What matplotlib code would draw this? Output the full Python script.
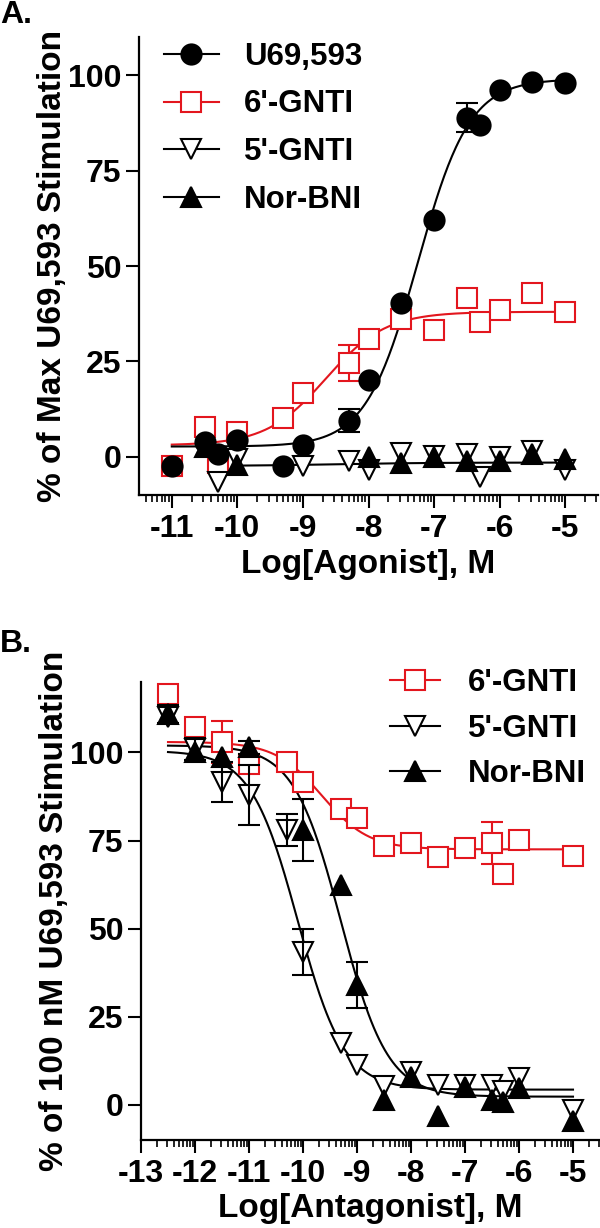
import matplotlib
matplotlib.use("Agg")
import matplotlib.pyplot as plt
from matplotlib.lines import Line2D
import numpy as np

plt.rcParams['font.family'] = ['Liberation Sans', 'DejaVu Sans']
plt.rcParams['font.weight'] = 'bold'
plt.rcParams['axes.labelweight'] = 'bold'
plt.rcParams['axes.unicode_minus'] = False
plt.rcParams['xtick.labelsize'] = 23
plt.rcParams['ytick.labelsize'] = 23

RED = '#E3161E'

# ---- panel A: agonist data
a_x = [-11, -10.5, -10.3, -10, -9.3, -9, -8.3, -8, -7.5, -7, -6.5, -6.3, -6, -5.5, -5]
a_u69 = [-2.5, 4.0, 0.8, 4.3, -2.3, 3.1, 9.5, 20.1, 40.3, 62.0, 88.9, 86.9, 96.1, 98.3, 98.0]
a_u69_err = [0, 0, 0, 0, 0, 0, 3.0, 0, 0, 0, 3.8, 0, 0, 0, 0]
a_gnti6 = [-2.3, 7.9, -1.7, 6.6, 10.1, 16.6, 24.5, 31.0, 36.2, 33.2, 41.6, 35.3, 38.4, 42.9, 37.9]
a_gnti6_err = [0, 0, 0, 0, 0, 0, 4.7, 0, 0, 0, 0, 0, 0, 0, 0]
a_gnti5_x = [-10.3, -10, -9, -8.3, -8, -7.5, -7, -6.5, -6.3, -6, -5.5, -5]
a_gnti5 = [-6.7, -0.5, -2.3, -1.0, -3.4, 1.0, 0.3, 0.8, -5.3, -0.1, 1.4, -3.4]
a_nor_x = [-10.5, -10, -8, -7.5, -7, -6.5, -6, -5.5, -5]
a_nor = [2.5, -2.1, -0.1, -1.6, -0.1, -1.0, -1.0, 0.8, -0.6]

# fitted curves: bottom, top, logEC50, hill, x start, x end
a_fit_u69 = (2.7, 99.0, -7.25, 1.1, -11, -5)
a_fit_gnti6 = (3.0, 38.0, -8.65, 0.95, -11, -5)
a_fit_nor = (-2.4, -1.5, -8.5, 0.6, -10, -5)

# ---- panel B: antagonist data
b_gnti6_x = [-12.5, -12, -11.5, -11, -10.3, -10, -9.3, -9, -8.5, -8, -7.5, -7, -6.5, -6.3, -6, -5]
b_gnti6 = [116.6, 107.2, 102.9, 96.8, 97.4, 91.6, 84.0, 81.5, 73.4, 74.4, 70.3, 73.0, 74.3, 65.4, 75.1, 70.5]
b_gnti6_err = [0, 0, 5.9, 0, 0, 0, 0, 0, 0, 0, 0, 0, 6.0, 0, 0, 0]
b_gnti5_x = [-12.5, -12, -11.5, -11, -10.3, -10, -9.3, -9, -8.5, -8, -7.5, -7, -6.5, -6.3, -6, -5]
b_gnti5 = [110.0, 101.0, 91.6, 87.8, 77.9, 43.4, 17.5, 11.3, 5.2, 9.4, 5.7, 5.7, 5.7, 3.8, 7.6, -1.4]
b_gnti5_err = [0, 3.0, 5.7, 8.5, 4.5, 6.6, 0, 0, 0, 0, 0, 0, 0, 0, 0, 0]
b_nor_x = [-12.5, -12, -11.5, -11, -10, -9.3, -9, -8.5, -8, -7.5, -7, -6.5, -6.3, -6, -5]
b_nor = [111.0, 100.0, 98.7, 101.5, 77.9, 62.3, 34.0, 1.4, 8.0, -3.3, 5.0, 1.4, 0.9, 4.7, -4.7]
b_nor_err = [2.5, 0, 0, 1.8, 8.8, 0, 6.5, 0, 0, 0, 0, 0, 0, 0, 0]

b_fit_gnti6 = (72.5, 103.0, -9.65, 1.0, -12.5, -5)
b_fit_gnti5 = (4.3, 100.5, -10.1, 1.0, -12.5, -5)
b_fit_nor = (2.3, 102.0, -9.3, 1.0, -12.5, -5)


def agonist_curve(p):
    bottom, top, ec50, hill, x0, x1 = p
    x = np.linspace(x0, x1, 300)
    return x, bottom + (top - bottom) / (1 + 10 ** ((ec50 - x) * hill))


def antagonist_curve(p):
    bottom, top, ic50, hill, x0, x1 = p
    x = np.linspace(x0, x1, 300)
    return x, bottom + (top - bottom) / (1 + 10 ** ((x - ic50) * hill))


def err_bars(ax, x, y, err, color, z):
    x, y, err = np.array(x), np.array(y), np.array(err)
    m = err > 0
    ax.errorbar(x[m], y[m], yerr=err[m], fmt='none', ecolor=color, elinewidth=1.5,
                capsize=8, capthick=1.5, zorder=z)


def style_axis(ax, xmin, xmax, ymin, ymax, xticks):
    ax.set_xlim(xmin, xmax)
    ax.set_ylim(ymin, ymax)
    for s in ['top', 'right']:
        ax.spines[s].set_visible(False)
    for s in ['left', 'bottom']:
        ax.spines[s].set_linewidth(1.6)
    ax.set_xticks(xticks)
    ax.set_xticklabels([str(t) for t in xticks], fontsize=23, fontweight='bold')
    minor = []
    for d in range(int(np.floor(xmin)) - 1, int(np.ceil(xmax)) + 1):
        for k in range(2, 10):
            v = d + np.log10(k)
            if xmin <= v <= xmax:
                minor.append(v)
    ax.set_xticks(minor, minor=True)
    yt = [0, 25, 50, 75, 100]
    ax.set_yticks(yt)
    ax.set_yticklabels([str(t) for t in yt], fontsize=23, fontweight='bold')
    ax.tick_params(which='major', length=9.4, width=1.5)
    ax.tick_params(which='minor', length=5, width=1.2)
    ax.tick_params(axis='y', pad=3.2)
    ax.tick_params(axis='x', pad=4)


MS = 14.5
MEW = 1.5

fig = plt.figure(figsize=(6, 12.28), dpi=100)

# ---------------- panel A
axA = fig.add_axes([139 / 600, 1 - 495 / 1228, 459 / 600, 458 / 1228])
x, y = agonist_curve(a_fit_gnti6)
axA.plot(x, y, color=RED, lw=1.5, zorder=2)
x, y = agonist_curve(a_fit_nor)
axA.plot(x, y, color='black', lw=1.5, zorder=2)
x, y = agonist_curve(a_fit_u69)
axA.plot(x, y, color='black', lw=1.5, zorder=2)

err_bars(axA, a_x, a_gnti6, a_gnti6_err, RED, 2.5)
axA.plot(a_x, a_gnti6, 's', ms=MS, mfc='white', mec=RED, mew=MEW, zorder=3)
axA.plot(a_gnti5_x, a_gnti5, 'v', ms=MS, mfc='white', mec='black', mew=MEW, zorder=4)
axA.plot(a_nor_x, a_nor, '^', ms=MS, mfc='black', mec='black', mew=MEW, zorder=5)
err_bars(axA, a_x, a_u69, a_u69_err, 'black', 5.5)
axA.plot(a_x, a_u69, 'o', ms=MS, mfc='black', mec='black', mew=MEW, zorder=6)

style_axis(axA, -11.5, -4.5, -10, 110, list(range(-11, -4)))
axA.set_xlabel('Log[Agonist], M', fontsize=24)
axA.set_ylabel('% of Max U69,593 Stimulation', fontsize=24)
axA.xaxis.set_label_coords(0.5, -0.118)
axA.yaxis.set_label_coords(-0.155, 0.5)

hA = [Line2D([], [], color='black', lw=1.5, marker='o', ms=MS, mfc='black', mew=MEW),
      Line2D([], [], color=RED, lw=1.5, marker='s', ms=MS, mfc='white', mec=RED, mew=MEW),
      Line2D([], [], color='black', lw=1.5, marker='v', ms=MS, mfc='white', mew=MEW),
      Line2D([], [], color='black', lw=1.5, marker='^', ms=MS, mfc='black', mew=MEW)]
fig.legend(hA, ['U69,593', "6'-GNTI", "5'-GNTI", 'Nor-BNI'], loc='upper left',
           bbox_to_anchor=(164 / 600, 1 - 42 / 1228), frameon=False, fontsize=22.5,
           borderpad=0, handlelength=1.75, handletextpad=0.8, labelspacing=0.56,
           numpoints=1, borderaxespad=0)

# ---------------- panel B
axB = fig.add_axes([141 / 600, 1 - 1140 / 1228, 459 / 600, 458 / 1228])
x, y = antagonist_curve(b_fit_gnti6)
axB.plot(x, y, color=RED, lw=1.5, zorder=2)
x, y = antagonist_curve(b_fit_gnti5)
axB.plot(x, y, color='black', lw=1.5, zorder=2)
x, y = antagonist_curve(b_fit_nor)
axB.plot(x, y, color='black', lw=1.5, zorder=2)

err_bars(axB, b_gnti6_x, b_gnti6, b_gnti6_err, RED, 2.5)
axB.plot(b_gnti6_x, b_gnti6, 's', ms=MS, mfc='white', mec=RED, mew=MEW, zorder=3)
axB.plot(b_gnti5_x, b_gnti5, 'v', ms=MS, mfc='white', mec='black', mew=MEW, zorder=4)
err_bars(axB, b_gnti5_x, b_gnti5, b_gnti5_err, 'black', 4.5)
axB.plot(b_nor_x, b_nor, '^', ms=MS, mfc='black', mec='black', mew=MEW, zorder=5)
err_bars(axB, b_nor_x, b_nor, b_nor_err, 'black', 5.5)

style_axis(axB, -13, -4.5, -10, 120, list(range(-13, -4)))
axB.set_xlabel('Log[Antagonist], M', fontsize=24)
axB.set_ylabel('% of 100 nM U69,593 Stimulation', fontsize=24)
axB.xaxis.set_label_coords(0.5, -0.115)
axB.yaxis.set_label_coords(-0.155, 0.5)

hB = [Line2D([], [], color=RED, lw=1.5, marker='s', ms=MS, mfc='white', mec=RED, mew=MEW),
      Line2D([], [], color='black', lw=1.5, marker='v', ms=MS, mfc='white', mew=MEW),
      Line2D([], [], color='black', lw=1.5, marker='^', ms=MS, mfc='black', mew=MEW)]
fig.legend(hB, ["6'-GNTI", "5'-GNTI", 'Nor-BNI'], loc='upper left',
           bbox_to_anchor=(390 / 600, 1 - 668 / 1228), frameon=False, fontsize=22.5,
           borderpad=0, handlelength=1.6, handletextpad=0.9, labelspacing=0.5,
           numpoints=1, borderaxespad=0)

fig.text(0.0, 1 - 15 / 1228, 'A.', fontsize=23, ha='left', va='center')
fig.text(0.0, 1 - 644 / 1228, 'B.', fontsize=23, ha='left', va='center')

fig.savefig('out.png', dpi=100)
